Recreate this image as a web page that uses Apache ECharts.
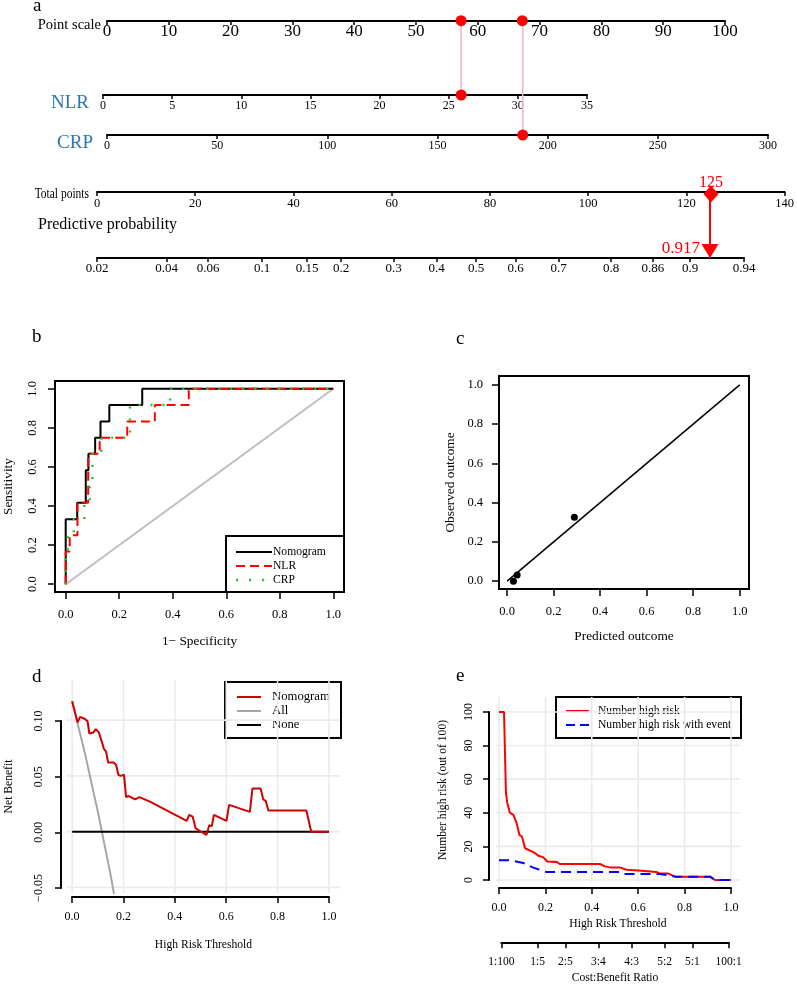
<!DOCTYPE html>
<html>
<head>
<meta charset="utf-8">
<script src="https://cdn.jsdelivr.net/npm/echarts@6/dist/echarts.min.js"></script>
<style>
html,body{margin:0;padding:0;background:#fff;}
#main{width:797px;height:985px;}
</style>
</head>
<body>
<div id="main"></div>
<script>
var FONT = 'Liberation Serif';

// a: nomogram
var probTicks = [0.02, 0.04, 0.06, 0.1, 0.15, 0.2, 0.3, 0.4, 0.5, 0.6, 0.7, 0.8, 0.86, 0.9, 0.94];
var patientPoints = [57.3, 67.2];   // points for NLR, CRP
var patientNLR = 25.9;
var patientCRP = 188.7;
var patientTotal = 125;
var patientProb = 0.917;

// b: ROC [1-specificity, sensitivity]
var rocNomogram = [[0,0],[0,0.333],[0.043,0.333],[0.043,0.417],[0.075,0.417],[0.075,0.583],[0.085,0.583],[0.085,0.667],
  [0.11,0.667],[0.11,0.75],[0.13,0.75],[0.13,0.833],[0.163,0.833],[0.163,0.917],[0.286,0.917],[0.286,1],[1,1]];
var rocNLR = [[0,0],[0,0.167],[0.015,0.167],[0.015,0.25],[0.044,0.25],[0.044,0.417],[0.084,0.417],[0.084,0.667],
  [0.127,0.667],[0.127,0.75],[0.23,0.75],[0.23,0.833],[0.333,0.833],[0.333,0.917],[0.46,0.917],[0.46,1],[1,1]];
var rocCRP = [[0,0],[0,0.167],[0.008,0.167],[0.008,0.25],[0.03,0.25],[0.03,0.333],[0.07,0.333],[0.07,0.417],[0.09,0.417],
  [0.09,0.5],[0.1,0.5],[0.1,0.667],[0.133,0.667],[0.133,0.75],[0.24,0.75],[0.24,0.917],[0.39,0.917],[0.39,1],[1,1]];
var rocChance = [[0,0],[1,1]];

// c: calibration
var calPredicted = [0.027, 0.043, 0.289];
var calObserved = [0.0, 0.031, 0.326];
var calIdeal = [[0,0],[1,1]];

// d: decision curve [threshold, net benefit]
var dcaNomogram = [[0,0.117],[0.021,0.098],[0.031,0.103],[0.05,0.101],[0.06,0.099],[0.067,0.088],[0.083,0.089],[0.092,0.092],
  [0.104,0.089],[0.115,0.081],[0.124,0.074],[0.132,0.072],[0.14,0.062],[0.161,0.062],[0.171,0.06],[0.18,0.051],[0.189,0.05],
  [0.202,0.051],[0.21,0.031],[0.219,0.032],[0.245,0.029],[0.262,0.031],[0.303,0.027],[0.446,0.0096],[0.456,0.015],[0.469,0.0135],
  [0.481,0.003],[0.523,-0.003],[0.534,0.0057],[0.544,0.005],[0.552,0.015],[0.601,0.0096],[0.611,0.024],[0.692,0.0177],
  [0.702,0.0386],[0.734,0.0386],[0.744,0.029],[0.754,0.0275],[0.764,0.019],[0.912,0.019],[0.931,0],[0.999,0]];
var dcaAll = [[0,0.117],[0.05,0.07],[0.1,0.018],[0.15,-0.039],[0.18,-0.078]];
var dcaNone = [[0,0],[1,0]];

// e: clinical impact [threshold, number of 100]
var cicHighRisk = [[0,100],[0.0216,100],[0.03,51.6],[0.036,45.7],[0.047,40],[0.062,38.7],[0.076,33.8],[0.088,26.9],[0.099,25.9],
  [0.112,19],[0.126,18],[0.141,17],[0.155,16],[0.17,14.4],[0.19,13.6],[0.208,11],[0.249,10.7],[0.263,9.5],[0.435,9.5],
  [0.457,8.1],[0.478,7.5],[0.52,7.5],[0.55,6.1],[0.6,5.7],[0.608,4.7],[0.68,4.7],[0.694,3.8],[0.73,3.8],[0.759,2],
  [0.91,2],[0.931,0],[1,0]];
var cicWithEvent = [[0,11.7],[0.047,11.7],[0.105,10.1],[0.145,7.5],[0.205,4.7],[0.52,4.7],[0.535,3.6],[0.694,3.6],
  [0.759,2],[0.91,2],[0.931,0],[1,0]];
var costBenefit = ['1:100', '1:5', '2:5', '3:4', '4:3', '5:2', '5:1', '100:1'];

var unitTicks = [0, 0.2, 0.4, 0.6, 0.8, 1.0];
var dcaYTicks = [-0.05, 0, 0.05, 0.1];
var cicYTicks = [0, 20, 40, 60, 80, 100];

function logit(p){ return Math.log(p / (1 - p)); }
function ratioToThreshold(r){ var s = r.split(':'); return +s[0] / (+s[0] + +s[1]); }
var probPos = probTicks.map(logit);
var costPos = costBenefit.map(ratioToThreshold);
function nearestIdx(arr, v){
  var best = 0;
  for (var i = 1; i < arr.length; i++) if (Math.abs(arr[i] - v) < Math.abs(arr[best] - v)) best = i;
  return best;
}
function blk(w){ return {color:'#000', width:w}; }

//坐标轴工具
function nomoAxis(gi, min, max, interval, size, margin){
  return {type:'value', gridIndex:gi, min:min, max:max, interval:interval, position:'bottom',
    axisLine:{show:true, onZero:false, lineStyle:blk(2)},
    axisTick:{show:true, length:4, lineStyle:blk(1.5)},
    axisLabel:{show:true, fontSize:size, margin:margin, color:'#000', fontFamily:FONT},
    splitLine:{show:false}};
}
function hideAxis(gi, min, max){
  return {type:'value', gridIndex:gi, min:min, max:max, show:false, axisLine:{onZero:false}};
}
function frameAxis(gi, min, max, name, gap, rotate){
  return {type:'value', gridIndex:gi, min:min, max:max,
    axisLine:{show:false, onZero:false},
    axisTick:{show:true, length:7, customValues:unitTicks, lineStyle:blk(1.5)},
    axisLabel:{show:true, customValues:unitTicks, rotate:rotate, fontSize:12.5, margin:16, color:'#000', fontFamily:FONT,
      formatter:function(v){ return v.toFixed(1); }},
    splitLine:{show:false},
    name:name, nameLocation:'middle', nameGap:gap, nameTextStyle:{fontSize:13.3, color:'#000', fontFamily:FONT}};
}
function nameAxis(gi, min, max, name, gap){
  return {type:'value', gridIndex:gi, min:min, max:max,
    axisLine:{show:false, onZero:false}, axisTick:{show:false}, axisLabel:{show:false}, splitLine:{show:false},
    name:name, nameLocation:'middle', nameGap:gap, nameTextStyle:{fontSize:11.6, color:'#000', fontFamily:FONT}};
}
function rAxis(gi, min, max, interval, rotate, margin, fmt){
  return {type:'value', gridIndex:gi, min:min, max:max, interval:interval,
    axisLine:{show:true, onZero:false, lineStyle:blk(2)},
    axisTick:{show:true, length:6, lineStyle:blk(1.5)},
    axisLabel:{rotate:rotate, margin:margin, fontSize:12, color:'#000', fontFamily:FONT, formatter:fmt},
    splitLine:{show:false}};
}
function fmt1(v){ return v.toFixed(1); }
function fmtDca(v){ return (v < -1e-9 ? '\u2212' : '') + Math.abs(v).toFixed(2); }
function fmtInt(v){ return String(Math.round(v)); }

function lineS(xi, data, color, width, dash, z){
  return {type:'line', xAxisIndex:xi, yAxisIndex:xi, data:data, symbol:'none', silent:true, z:z || 2,
    lineStyle:{color:color, width:width, type:dash || 'solid'}};
}
// 背景网格线 (一条线一个系列, 放在最底层)
function gridLines(xi, xs, ys, xr, yr){
  var out = [];
  xs.forEach(function(v){ out.push(lineS(xi, [[v, yr[0]], [v, yr[1]]], '#ebebeb', 1.6, null, 1)); });
  ys.forEach(function(v){ out.push(lineS(xi, [[xr[0], v], [xr[1], v]], '#ebebeb', 1.6, null, 1)); });
  return out;
}
function dotS(xi, data, size, extra){
  var s = {type:'scatter', xAxisIndex:xi, yAxisIndex:xi, z:5, silent:true, symbolSize:size,
    itemStyle:{color:'#ff0000', opacity:1}, data:data};
  for (var k in (extra || {})) s[k] = extra[k];
  return s;
}
function legendGroup(box, rows, size){
  var ch = [{type:'rect', shape:{x:box[0], y:box[1], width:box[2], height:box[3]},
    style:{fill:'#fff', stroke:'#000', lineWidth:2}}];
  rows.forEach(function(r){
    ch.push({type:'line', shape:{x1:r.x1, y1:r.y, x2:r.x2, y2:r.y},
      style:{stroke:r.color, lineWidth:r.w || 2, lineDash:r.dash || null}});
    ch.push({type:'text', style:{text:r.name, x:r.tx, y:r.y, fontSize:size, fontFamily:FONT, fill:'#000',
      textVerticalAlign:'middle'}});
  });
  return {type:'group', z:20, children:ch};
}
function label(text, x, y, size, opts){
  var o = {type:'text', x:x, y:y, z:20, style:{text:text, fontSize:size, fontFamily:FONT, fill:'#000',
    textAlign:'left', textVerticalAlign:'middle'}};
  for (var k in (opts || {})) {
    if (k === 'scaleX') o.scaleX = opts[k]; else o.style[k] = opts[k];
  }
  return o;
}

var chart = echarts.init(document.getElementById('main'));

var grids = [
  {left:107, top:20, width:618, height:1},      // 0 point scale
  {left:103, top:21, width:484, height:74},     // 1 NLR
  {left:107, top:21, width:661, height:114},    // 2 CRP
  {left:97, top:191, width:689, height:1},      // 3 total points
  {left:97, top:192, width:647, height:66},     // 4 probability
  {left:55, top:381, width:289, height:211, show:true, borderColor:'#000', borderWidth:2},  // 5 ROC
  {left:499, top:376, width:250, height:213, show:true, borderColor:'#000', borderWidth:2}, // 6 calibration
  {left:67, top:680, width:273, height:213},    // 7 DCA plot
  {left:61, top:721, width:10, height:167},     // 8 DCA y axis
  {left:72, top:896, width:257, height:1},      // 9 DCA x axis
  {left:496, top:697, width:244, height:186},   // 10 CIC plot
  {left:489, top:712, width:10, height:168},    // 11 CIC y axis
  {left:499, top:887, width:232, height:1},     // 12 CIC x axis
  {left:501.3, top:942, width:227.4, height:1}  // 13 cost:benefit
];

var dcaXRange = [-0.02, 1.043], dcaYRange = [-0.055, 0.136];
var cicXRange = [-0.0129, 1.0388], cicYRange = [-1.79, 108.9];

var probAxis = nomoAxis(4, probPos[0], probPos[probPos.length - 1], null, 13, 4);
delete probAxis.interval;
probAxis.axisTick.customValues = probPos;
probAxis.axisLabel.customValues = probPos;
probAxis.axisLabel.formatter = function(v){ return String(probTicks[nearestIdx(probPos, v)]); };

var costAxis = rAxis(13, costPos[0], costPos[costPos.length - 1], null, 0, 14, null);
delete costAxis.interval;
costAxis.axisTick.customValues = costPos;
costAxis.axisLabel.customValues = costPos;
costAxis.axisLabel.fontSize = 11.5;
costAxis.axisLabel.formatter = function(v){ return costBenefit[nearestIdx(costPos, v)]; };
costAxis.name = 'Cost:Benefit Ratio';
costAxis.nameLocation = 'middle';
costAxis.nameGap = 30;
costAxis.nameTextStyle = {fontSize:11.6, color:'#000', fontFamily:FONT};

var xAxes = [
  nomoAxis(0, 0, 100, 10, 17, 2),
  nomoAxis(1, 0, 35, 5, 12, 5),
  nomoAxis(2, 0, 300, 50, 12, 5),
  nomoAxis(3, 0, 140, 20, 12.5, 5),
  probAxis,
  frameAxis(5, -0.04, 1.04, '1\u2212 Specificity', 43, 0),
  frameAxis(6, -0.035, 1.04, 'Predicted outcome', 41, 0),
  nameAxis(7, dcaXRange[0], dcaXRange[1], 'High Risk Threshold', 46),
  hideAxis(8, 0, 1),
  rAxis(9, 0, 1, 0.2, 0, 14, fmt1),
  nameAxis(10, cicXRange[0], cicXRange[1], 'High Risk Threshold', 35),
  hideAxis(11, 0, 1),
  rAxis(12, 0, 1, 0.2, 0, 14, fmt1),
  costAxis
];
var yAxes = [
  hideAxis(0, 0, 1), hideAxis(1, 0, 1), hideAxis(2, 0, 1), hideAxis(3, 0, 1), hideAxis(4, 0, 1),
  frameAxis(5, -0.04, 1.04, 'Sensitivity', 40, 90),
  frameAxis(6, -0.04, 1.045, 'Observed outcome', 42, 0),
  nameAxis(7, dcaYRange[0], dcaYRange[1], 'Net Benefit', 52),
  rAxis(8, -0.05, 0.1, 0.05, 90, 16, fmtDca),
  hideAxis(9, 0, 1),
  nameAxis(10, cicYRange[0], cicYRange[1], 'Number high risk (out of 100)', 47),
  rAxis(11, 0, 100, 20, 90, 14, fmtInt),
  hideAxis(12, 0, 1),
  hideAxis(13, 0, 1)
];

var pink = '#f6b3c2';
var series = [
  // a
  dotS(0, patientPoints.map(function(p){ return [p, 0.3]; }), 11),
  lineS(1, [[patientNLR, 0], [patientNLR, 1]], pink, 1.5),
  dotS(1, [[patientNLR, 0]], 11),
  lineS(2, [[patientCRP, 0], [patientCRP, 1]], pink, 1.5),
  dotS(2, [[patientCRP, 0]], 11),
  lineS(4, [[logit(patientProb), 1], [logit(patientProb), 0]], '#ff0000', 2),
  dotS(3, [[patientTotal, 0]], [15, 17], {symbol:'diamond', symbolOffset:[0, 2]}),
  dotS(3, [[patientTotal, 0]], 0.1, {z:6, label:{show:true, position:'top', distance:1, color:'#ff0000', fontSize:16,
    fontFamily:FONT, formatter:function(p){ return String(p.value[0]); }}}),
  dotS(4, [[logit(patientProb), 0]], [17, 14], {symbol:'triangle', symbolRotate:180, symbolOffset:[0, -7]}),
  dotS(4, [[logit(patientProb), 0]], 0.1, {z:6, label:{show:true, position:'left', distance:10, offset:[0, -9],
    color:'#ff0000', fontSize:17, fontFamily:FONT, formatter:function(){ return patientProb.toFixed(3); }}}),
  // b
  lineS(5, rocChance, '#bebebe', 2),
  lineS(5, rocNomogram, '#000000', 2),
  lineS(5, rocNLR, '#ff0000', 2, [9, 5]),
  lineS(5, rocCRP, '#22c722', 2.4, [2, 10]),
  // c
  lineS(6, calIdeal, '#000000', 1.5),
  dotS(6, calPredicted.map(function(p, i){ return [p, calObserved[i]]; }), 7, {itemStyle:{color:'#000', opacity:1}}),
  // d
  lineS(7, dcaAll, '#a6a6a6', 2),
  lineS(7, dcaNone, '#000000', 2),
  lineS(7, dcaNomogram, '#d00000', 2),
  // e
  lineS(10, cicHighRisk, '#ff0000', 2),
  lineS(10, cicWithEvent, '#0000ff', 2, [10, 6])
].concat(gridLines(7, unitTicks, dcaYTicks, dcaXRange, dcaYRange))
 .concat(gridLines(10, unitTicks, cicYTicks, cicXRange, cicYRange));

var graphic = [
  label('a', 33, 6, 19),
  label('b', 32, 337, 19),
  label('c', 456, 339, 19),
  label('d', 32, 677, 19),
  label('e', 456, 676, 19),
  label('Point scale', 101, 25, 14.5, {textAlign:'right'}),
  label('NLR', 70, 103, 19, {textAlign:'center', fill:'#2878b5'}),
  label('CRP', 75, 143, 19, {textAlign:'center', fill:'#2878b5'}),
  label('Total points', 89, 194, 14, {textAlign:'right', scaleX:0.82}),
  label('Predictive probability', 38, 225, 16),
  legendGroup([226, 536, 118, 56], [
    {name:'Nomogram', color:'#000', y:552, x1:236, x2:272, tx:273},
    {name:'NLR', color:'#ff0000', dash:[9, 5], y:566, x1:236, x2:272, tx:273},
    {name:'CRP', color:'#22c722', dash:[2, 11], w:2.4, y:580, x1:236, x2:272, tx:273}
  ], 11.6),
  legendGroup([225, 682, 116, 56], [
    {name:'Nomogram', color:'#d00000', y:697, x1:237, x2:261, tx:272},
    {name:'All', color:'#a6a6a6', y:711, x1:237, x2:261, tx:272},
    {name:'None', color:'#000', y:725, x1:237, x2:261, tx:272}
  ], 12.7),
  legendGroup([556, 697, 185, 41], [
    {name:'Number high risk', color:'#ff0000', y:711, x1:566, x2:589, tx:598},
    {name:'Number high risk with event', color:'#0000ff', dash:[9, 5], y:725, x1:566, x2:589, tx:598}
  ], 11.6)
];

chart.setOption({
  animation:false,
  backgroundColor:'#fff',
  textStyle:{fontFamily:FONT, color:'#000'},
  grid:grids,
  xAxis:xAxes,
  yAxis:yAxes,
  series:series,
  graphic:graphic
});
</script>
</body>
</html>
